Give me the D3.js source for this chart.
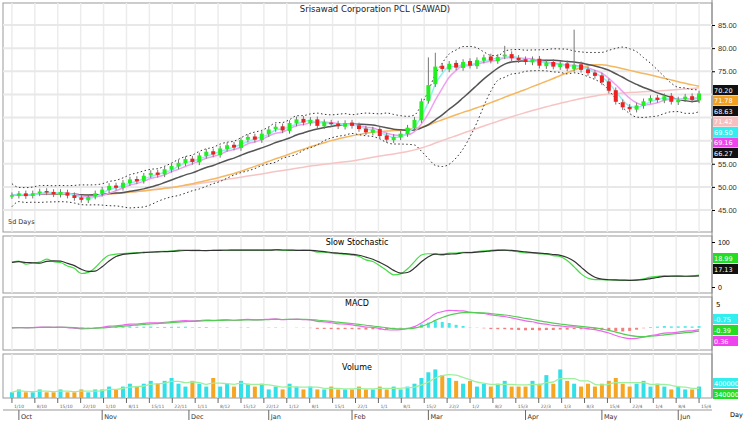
<!DOCTYPE html>
<html><head><meta charset="utf-8">
<script src="https://cdn.jsdelivr.net/npm/d3@7"></script>
<style>body{margin:0;background:#fff}svg{display:block;font-family:"DejaVu Sans",sans-serif}</style>
</head><body><svg id="c" width="750" height="422"></svg>
<script>
const title = 'Srisawad Corporation PCL (SAWAD)';
const closes = [48.2,48.5,48.0,48.6,49.0,48.8,48.4,48.9,48.1,47.6,47.2,47.8,48.6,
  49.4,50.2,49.8,50.9,51.6,51.2,52.4,53.0,52.6,53.8,54.5,55.2,
  56.0,55.4,56.8,57.6,57.0,58.3,59.0,58.5,60.1,60.8,60.2,61.5,
  62.4,63.0,62.2,63.8,64.6,63.9,64.5,63.2,64.0,63.6,63.1,63.8,
  63.2,62.5,61.8,62.4,61.0,60.2,60.8,61.5,62.8,64.5,68.5,
  72.0,76.0,75.5,76.6,75.8,77.0,76.2,77.4,78.0,77.3,78.1,78.6,77.8,77.4,
  77.0,77.6,76.2,76.9,76.0,76.6,75.6,76.4,75.3,74.6,74.0,
  72.6,70.8,68.4,67.2,66.8,67.6,68.5,69.2,68.8,69.6,68.4,68.9,69.5,68.8,70.2];
const opens = [48.0,48.1,48.6,48.1,48.6,49.1,48.9,48.3,48.8,48.2,47.7,47.1,47.9,
  48.5,49.3,50.3,49.8,50.8,51.7,51.3,52.5,53.1,52.7,53.7,54.4,
  55.1,56.1,55.3,56.7,57.7,56.9,58.2,59.1,58.4,60.2,60.9,60.1,
  61.4,62.5,63.1,62.1,63.7,64.7,63.8,64.6,63.1,63.9,63.7,63.0,
  63.9,63.3,62.6,61.7,62.5,61.1,60.1,60.7,61.4,62.7,64.4,
  68.6,72.2,76.2,75.4,76.8,75.7,77.2,76.1,77.3,78.2,77.2,78.2,78.7,77.9,
  77.6,76.9,77.7,76.1,77.0,75.9,76.7,75.5,76.5,75.4,74.7,
  74.1,72.8,70.9,68.3,67.3,66.7,67.5,68.6,69.3,68.7,69.7,68.3,69.0,69.6,68.7];
const spikes = [[60, 78.0], [61, 79.0], [71, 80.5], [81, 84.0]];
const volumes = [2,3,2,2,3,2,2,3,2,2,3,2,3, 3,4,3,4,5,4,5,6,5,6,7,5,
  4,6,5,4,7,4,5,4,6,5,4,5, 3,4,3,5,4,3,4,3,3,4,3,3, 3,4,3,3,4,3,4,3,4,5,7,
  9,10,8,7,6,5,6,4,5,4,5,6,4,4, 4,6,5,8,5,10,6,5,4,5,4, 5,6,7,5,4,5,6,4,5,4,3,4,3,3,4];
const months = ['Oct','Nov','Dec','Jan','Feb','Mar','Apr','May','Jun'];
const monthIdx = [1,13,25.5,37,49,60,74,85,96];
const priceTicks = [45,50,55,60,65,70,75,80,85];
const priceLabels = [45,50,55,75,80,85];

const n = closes.length;
const svg = d3.select('#c');
const L = 3, R = 712;
const x = d3.scaleLinear().domain([-1, n]).range([L + 2, R - 6]);
const P = {main: [3, 232], stoch: [236, 293], macd: [297, 350], vol: [354, 398]};
const weeks = d3.range(0, n, 3.3);

const sma = (a, p) => a.map((_, i) => d3.mean(a.slice(Math.max(0, i - p + 1), i + 1)));
const ema = (a, p) => { const k = 2 / (p + 1); let e = a[0]; return a.map(v => (e = v * k + e * (1 - k))); };
const highs = closes.map((c, i) => Math.max(c, opens[i]) + 0.6);
const lows = closes.map((c, i) => Math.min(c, opens[i]) - 0.6);
spikes.forEach(([i, h]) => highs[i] = h);

// panels
Object.values(P).forEach(([t, b]) => {
  svg.append('rect').attr('x', L).attr('y', t).attr('width', R - L).attr('height', b - t)
    .attr('fill', '#fff').attr('stroke', '#999');
  svg.append('g').selectAll('line').data(weeks).join('line')
    .attr('x1', d => x(d)).attr('x2', d => x(d)).attr('y1', t).attr('y2', b)
    .attr('stroke', '#ececec').attr('stroke-width', 1.5);
});
svg.append('line').attr('x1', R).attr('x2', R).attr('y1', 0).attr('y2', 398).attr('stroke', '#888');

// main price panel
const y = d3.scaleLinear().domain([45, 85]).range([210, 25]);
svg.append('g').selectAll('line').data(priceTicks).join('line')
  .attr('x1', L).attr('x2', R).attr('y1', d => y(d)).attr('y2', d => y(d)).attr('stroke', '#e8e8e8').attr('stroke-width', 2);
svg.append('g').attr('transform', `translate(${R},0)`)
  .call(d3.axisRight(y).tickValues(priceLabels).tickFormat(d3.format('.2f')).tickSize(3))
  .call(g => g.select('.domain').remove())
  .selectAll('text').attr('font-size', 7.5).attr('fill', '#333');

const ma = [[sma(closes, 50), '#f7c4c4'], [sma(closes, 25), '#f5b860'], [sma(closes, 12), '#555'],
  [sma(closes, 5), '#f0a0f0'], [sma(closes, 3), '#8ff0f0']];
const sd = closes.map((_, i) => d3.deviation(closes.slice(Math.max(0, i - 9), i + 1)) || 0.8);
const line = d3.line().x((d, i) => x(i)).y(d => y(d)).curve(d3.curveMonotoneX);
ma.forEach(([d, c]) => svg.append('path').attr('d', line(d)).attr('fill', 'none').attr('stroke', c).attr('stroke-width', 1.5));
[1, -1].forEach(s => svg.append('path').attr('d', line(ma[2][0].map((m, i) => m + s * (1.6 * sd[i] + 1.2))))
  .attr('fill', 'none').attr('stroke', '#333').attr('stroke-dasharray', '1.5,2.5'));

const cg = svg.append('g');
cg.selectAll('line').data(closes).join('line')
  .attr('x1', (d, i) => x(i)).attr('x2', (d, i) => x(i))
  .attr('y1', (d, i) => y(highs[i])).attr('y2', (d, i) => y(lows[i])).attr('stroke', '#777');
cg.selectAll('rect').data(closes).join('rect')
  .attr('x', (d, i) => x(i) - 2).attr('width', 4)
  .attr('y', (d, i) => y(Math.max(d, opens[i])))
  .attr('height', (d, i) => Math.max(1.5, Math.abs(y(d) - y(opens[i]))))
  .attr('fill', (d, i) => d >= opens[i] ? '#22ee22' : '#f02020');

svg.append('text').attr('x', 375).attr('y', 12).attr('text-anchor', 'middle').attr('font-size', 8.5).attr('fill', '#222').text(title);
svg.append('text').attr('x', 8).attr('y', 224).attr('font-size', 6.5).attr('fill', '#333').text('5d Days');

// tags
function tag(yy, txt, bg, fg) {
  svg.append('rect').attr('x', R + 1).attr('y', yy - 5).attr('width', 25).attr('height', 10).attr('fill', bg);
  svg.append('text').attr('x', R + 2).attr('y', yy + 2.5).attr('font-size', 6.5).attr('fill', fg).text(txt);
}
const last = a => a[a.length - 1];
const mainTags = [[last(closes), '#111'], [last(ma[1][0]), '#f2a020'], [last(ma[2][0]), '#111'],
  [last(ma[0][0]), '#f7c0c0'], [last(ma[4][0]), '#33eeee'], [last(ma[3][0]), '#ee44ee'],
  [last(ma[2][0]) - 1.6 * last(sd) - 1.2, '#111']];
mainTags.forEach(([v, bg], i) => tag(90 + i * 10.5, v.toFixed(2), bg, '#fff'));

// stochastic
const ys = d3.scaleLinear().domain([0, 100]).range([P.stoch[1] - 6, P.stoch[0] + 6]);
const kRaw = closes.map((c, i) => { const lo = d3.min(lows.slice(Math.max(0, i - 19), i + 1)), hi = d3.max(highs.slice(Math.max(0, i - 19), i + 1)); return 100 * (c - lo) / (hi - lo); });
const kS = sma(kRaw, 3), dS = sma(kS, 3);
const ls = d3.line().x((d, i) => x(i)).y(d => ys(d * 0.75 + 12)).curve(d3.curveMonotoneX);
svg.append('path').attr('d', ls(kS)).attr('fill', 'none').attr('stroke', '#44dd44').attr('stroke-width', 1.2);
svg.append('path').attr('d', ls(dS)).attr('fill', 'none').attr('stroke', '#333').attr('stroke-width', 1.2);
svg.append('text').attr('x', 357).attr('y', 245).attr('text-anchor', 'middle').attr('font-size', 8).text('Slow Stochastic');
svg.append('g').attr('transform', `translate(${R},0)`).call(d3.axisRight(ys).tickValues([0, 100]).tickSize(3))
  .call(g => g.select('.domain').remove()).selectAll('text').attr('font-size', 7);
tag(258, last(kS).toFixed(2), '#22dd22', '#fff');
tag(269, last(dS).toFixed(2), '#111', '#fff');

// MACD
const e13 = ema(closes, 13);
const macd = ema(closes, 6).map((v, i) => v - e13[i]);
const sig = ema(macd, 5), hist = macd.map((v, i) => v - sig[i]);
const ym = d3.scaleLinear().domain([-4, 5]).range([P.macd[1] - 4, P.macd[0] + 8]);
svg.append('g').selectAll('rect').data(hist).join('rect')
  .attr('x', (d, i) => x(i) - 1.5).attr('width', 3)
  .attr('y', d => ym(Math.max(0, d))).attr('height', d => Math.abs(ym(d) - ym(0)))
  .attr('fill', d => d >= 0 ? '#44e8e8' : '#f08080');
const lm = d3.line().x((d, i) => x(i)).y(d => ym(d)).curve(d3.curveMonotoneX);
svg.append('path').attr('d', lm(macd)).attr('fill', 'none').attr('stroke', '#ee66ee').attr('stroke-width', 1.2);
svg.append('path').attr('d', lm(sig)).attr('fill', 'none').attr('stroke', '#55cc55').attr('stroke-width', 1.2);
svg.append('text').attr('x', 357).attr('y', 306).attr('text-anchor', 'middle').attr('font-size', 8).text('MACD');
svg.append('text').attr('x', R + 4).attr('y', 307).attr('font-size', 7).text('5');
tag(319, last(sig).toFixed(2), '#33eeee', '#fff');
tag(330, last(macd).toFixed(2), '#22dd22', '#fff');
tag(341, last(hist).toFixed(2), '#ee44ee', '#fff');

// volume
const yv = d3.scaleLinear().domain([0, 14]).range([P.vol[1], P.vol[0] + 4]);
svg.append('g').selectAll('rect').data(volumes).join('rect')
  .attr('x', (d, i) => x(i) - 2).attr('width', 4)
  .attr('y', d => yv(d)).attr('height', d => yv(0) - yv(d))
  .attr('fill', (d, i) => closes[i] >= opens[i] ? '#33e0e8' : '#f5a623');
svg.append('path').attr('d', d3.line().x((d, i) => x(i)).y(d => yv(d)).curve(d3.curveMonotoneX)(sma(volumes, 5)))
  .attr('fill', 'none').attr('stroke', '#9ef09e').attr('stroke-width', 1.3);
svg.append('text').attr('x', 357).attr('y', 370).attr('text-anchor', 'middle').attr('font-size', 8).text('Volume');
tag(383, (last(volumes) * 1e6).toFixed(0), '#33eeee', '#fff');
tag(394, (d3.mean(volumes.slice(-5)) * 1e6).toFixed(0), '#22dd22', '#fff');

// date axis
svg.append('g').selectAll('line').data(weeks).join('line')
  .attr('x1', d => x(d)).attr('x2', d => x(d)).attr('y1', 398).attr('y2', 403).attr('stroke', '#666');
svg.append('g').selectAll('text').data(weeks).join('text')
  .attr('x', d => x(d) + 2).attr('y', 408).attr('font-size', 4.5).attr('fill', '#666')
  .text((d, i) => `${1 + (i * 7) % 28}/${(Math.floor(i / 4.3) + 9) % 12 + 1}`);
svg.append('line').attr('x1', L).attr('x2', R).attr('y1', 410).attr('y2', 410).attr('stroke', '#999');
svg.append('g').selectAll('text').data(months).join('text')
  .attr('x', (d, i) => x(monthIdx[i]) + 2).attr('y', 419).attr('font-size', 6.5).attr('fill', '#333').text(d => d);
svg.append('g').selectAll('line').data(monthIdx).join('line')
  .attr('x1', d => x(d)).attr('x2', d => x(d)).attr('y1', 410).attr('y2', 420).attr('stroke', '#666');
svg.append('text').attr('x', 730).attr('y', 417).attr('font-size', 6.5).text('Day');
</script></body></html>
